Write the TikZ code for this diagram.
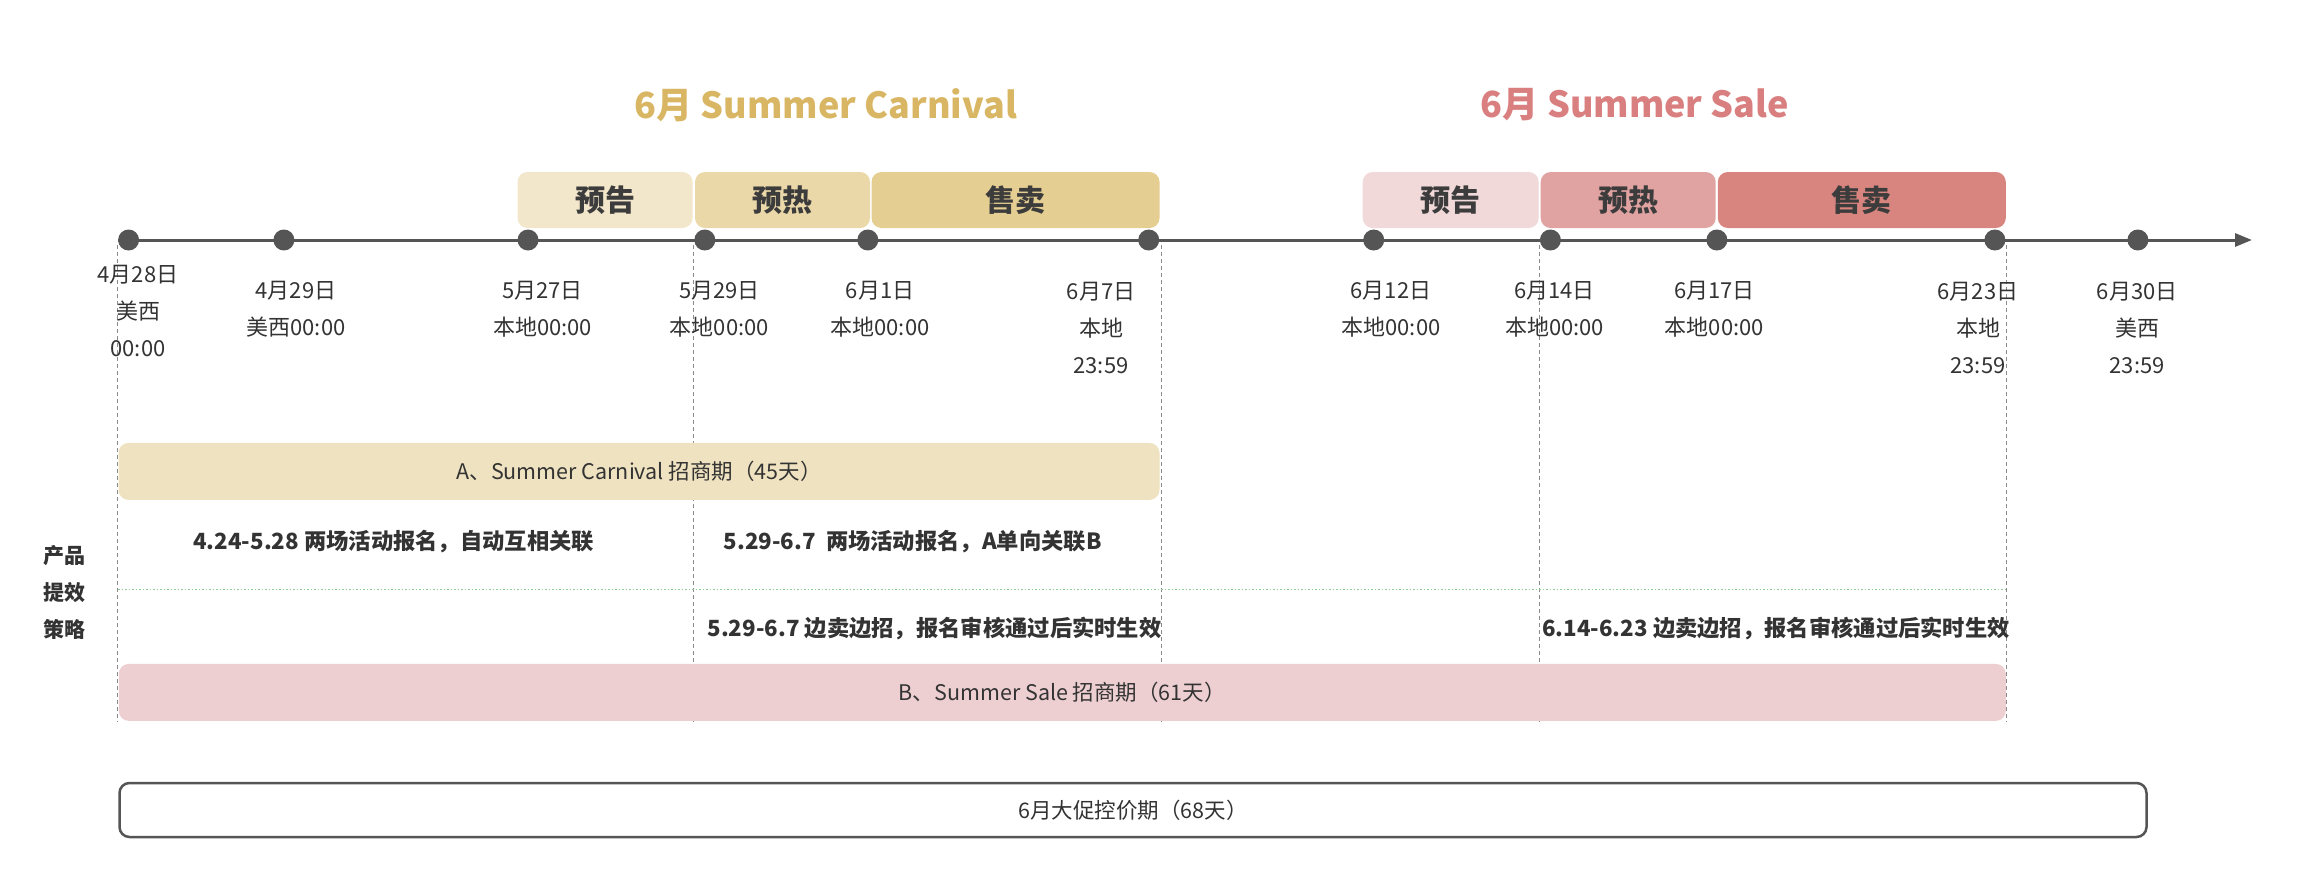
\documentclass[tikz,border=0pt]{standalone}
\usepackage{fontspec}
\setmainfont{Noto Sans CJK SC}
\usetikzlibrary{arrows.meta}
\definecolor{goldt}{HTML}{D9B663}
\definecolor{pinkt}{HTML}{D97F7F}
\definecolor{gA}{HTML}{F3E7CB}
\definecolor{gB}{HTML}{EBD8A8}
\definecolor{gC}{HTML}{E5CE91}
\definecolor{pA}{HTML}{F1D8D9}
\definecolor{pB}{HTML}{E1A3A2}
\definecolor{pC}{HTML}{D8857F}
\definecolor{barA}{HTML}{EFE2C0}
\definecolor{barB}{HTML}{EDCFD1}
\definecolor{dotc}{HTML}{555555}
\definecolor{txt}{HTML}{333333}
\definecolor{phtxt}{HTML}{3C3C3C}
\definecolor{guide}{HTML}{8A8A8A}
\definecolor{greenl}{HTML}{8CCB94}
\begin{document}
\begin{tikzpicture}[x=1pt,y=-1pt,
  every node/.style={inner sep=0pt,outer sep=0pt,text=txt},
  tdot/.style={circle,fill=dotc,minimum size=21pt},
  phasebox/.style={rounded corners=10pt,minimum height=56pt,font=\fontsize{30}{30}\selectfont\bfseries,text=phtxt},
  datelbl/.style={align=center,font=\fontsize{22}{37}\selectfont},
  barbox/.style={rounded corners=10pt,font=\fontsize{21.5}{21.5}\selectfont},
  rowtext/.style={font=\fontsize{22.3}{22.3}\selectfont\bfseries},
  guideline/.style={draw=guide,line width=0.9pt,dash pattern=on 4pt off 3pt},
  titlefont/.style={font=\fontsize{36}{36}\selectfont\bfseries}
]
\useasboundingbox (0,0) rectangle (2300,884);

% titles
\node[titlefont,text=goldt] (t1) at (826,105) {6月 Summer Carnival};
\node[titlefont,text=pinkt] (t2) at (1635,105) {6月 Summer Sale};

% phase boxes
\node[phasebox,fill=gA,minimum width=175pt] (g1) at (605,200) {预告};
\node[phasebox,fill=gB,minimum width=175pt] (g2) at (782.5,200) {预热};
\node[phasebox,fill=gC,minimum width=288pt] (g3) at (1015.5,200) {售卖};
\node[phasebox,fill=pA,minimum width=176pt] (p1) at (1450.7,200) {预告};
\node[phasebox,fill=pB,minimum width=175pt] (p2) at (1628.2,200) {预热};
\node[phasebox,fill=pC,minimum width=288pt] (p3) at (1861.8,200) {售卖};

% guide lines
\coordinate (v1a) at (117,245); \coordinate (v1b) at (117,722);
\coordinate (v2a) at (693.5,245); \coordinate (v2b) at (693.5,722);
\coordinate (v3a) at (1161,245); \coordinate (v3b) at (1161,722);
\coordinate (v4a) at (1539.5,245); \coordinate (v4b) at (1539.5,722);
\coordinate (v5a) at (2006.5,245); \coordinate (v5b) at (2006.5,722);
\foreach \i in {1,...,5} \draw[guideline] (v\i a) -- (v\i b);

% timeline
\coordinate (tlstart) at (118,240);
\coordinate (tlend) at (2252,240);
\draw[dotc,line width=3pt,-{Triangle[length=17pt,width=13pt]}] (tlstart) -- (tlend);
\foreach \n/\x in {d1/128.6,d2/283.9,d3/528,d4/704.8,d5/867.8,d6/1148.7,d7/1373.7,d8/1550.4,d9/1716.9,d10/1994.9,d11/2137.9}
  \node[tdot] (\n) at (\x,240) {};

% date labels
\node[datelbl] (l1) at (138,311) {4月28日\\美西\\00:00};
\node[datelbl] (l2) at (296,309.5) {4月29日\\美西00:00};
\node[datelbl] (l3) at (542.6,309.5) {5月27日\\本地00:00};
\node[datelbl] (l4) at (719.4,309.5) {5月29日\\本地00:00};
\node[datelbl] (l5) at (880,309.5) {6月1日\\本地00:00};
\node[datelbl] (l6) at (1101,327.5) {6月7日\\本地\\23:59};
\node[datelbl] (l7) at (1391,309.5) {6月12日\\本地00:00};
\node[datelbl] (l8) at (1554.5,309.5) {6月14日\\本地00:00};
\node[datelbl] (l9) at (1714.4,309.5) {6月17日\\本地00:00};
\node[datelbl] (l10) at (1978,327.5) {6月23日\\本地\\23:59};
\node[datelbl] (l11) at (2137.2,327.5) {6月30日\\美西\\23:59};

% bar A
\node[barbox,fill=barA,minimum width=1041pt,minimum height=57pt] (barA) at (639,471.4) {A、Summer Carnival 招商期（45天）};

% left label
\node[align=center,font=\fontsize{21}{37}\selectfont\bfseries] (lbl) at (64,592) {产品\\提效\\策略};

% row texts
\node[rowtext] (r1) at (393.7,541.7) {4.24-5.28 两场活动报名，自动互相关联};
\node[rowtext] (r2) at (912.6,541.7) {5.29-6.7~ 两场活动报名，A单向关联B};
\coordinate (gl1) at (118,589); \coordinate (gl2) at (2008,589);
\draw[greenl,line width=1pt,dash pattern=on 1.5pt off 2pt] (gl1) -- (gl2);
\node[rowtext] (r3) at (934.5,628.3) {5.29-6.7 边卖边招，报名审核通过后实时生效};
\node[rowtext] (r4) at (1776,628.3) {6.14-6.23 边卖边招，报名审核通过后实时生效};

% bar B
\node[barbox,fill=barB,minimum width=1887pt,minimum height=57pt] (barB) at (1062.3,692.4) {B、Summer Sale 招商期（61天）};

% bottom box
\node[barbox,draw=dotc,line width=2.5pt,fill=white,minimum width=2027pt,minimum height=54pt] (barC) at (1133,810) {6月大促控价期（68天）};
\end{tikzpicture}
\end{document}
